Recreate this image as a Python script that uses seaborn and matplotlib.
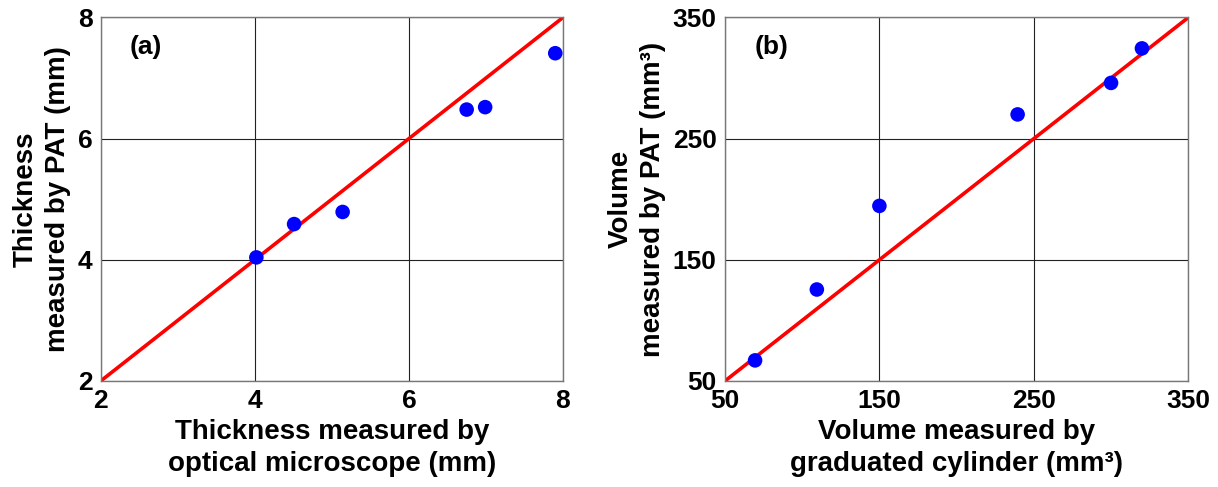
import matplotlib
matplotlib.use("Agg")
import matplotlib.pyplot as plt
import seaborn as sns
import pandas as pd

# --- Data ---
thick_optical = [4.02, 4.51, 5.14, 6.75, 6.99, 7.90]
thick_pat = [4.04, 4.59, 4.79, 6.48, 6.52, 7.41]
thick_line = [2, 8]

vol_cylinder = [69.5, 109.5, 150.0, 239.5, 300.0, 320.0]
vol_pat = [67.0, 125.5, 194.5, 270.0, 296.0, 324.5]
vol_line = [50, 350]

thick_ticks = [2, 4, 6, 8]
vol_ticks = [50, 150, 250, 350]

sns.set_style("white")
plt.rcParams["font.family"] = ["Liberation Sans", "DejaVu Sans"]
plt.rcParams["font.weight"] = "bold"
plt.rcParams["text.color"] = "black"
plt.rcParams["axes.labelcolor"] = "black"
plt.rcParams["xtick.color"] = "black"
plt.rcParams["ytick.color"] = "black"

fig = plt.figure(figsize=(12.18, 4.87), dpi=100)
ax_a = fig.add_axes([0.0827, 0.2177, 0.3795, 0.7464])
ax_b = fig.add_axes([0.5952, 0.2177, 0.3804, 0.7464])


def draw_panel(ax, xs, ys, line, ticks, letter, xlabel, ylabel):
    df = pd.DataFrame({"x": xs, "y": ys})
    ln = pd.DataFrame({"x": line, "y": line})
    ax.set_axisbelow(True)
    ax.grid(True, color="#222222", linewidth=0.8)
    sns.lineplot(data=ln, x="x", y="y", color="#ff0000", linewidth=2.6,
                 ax=ax, zorder=2)
    sns.scatterplot(data=df, x="x", y="y", color="#0000ff", s=110,
                    edgecolor="none", ax=ax, zorder=3)
    ax.set_xlim(line[0], line[1])
    ax.set_ylim(line[0], line[1])
    ax.set_xticks(ticks)
    ax.set_yticks(ticks)
    ax.tick_params(length=0, pad=6, labelsize=19, labelcolor="black")
    for lab in ax.get_xticklabels() + ax.get_yticklabels():
        lab.set_fontweight("bold")
    for sp in ax.spines.values():
        sp.set_color("#777777")
        sp.set_linewidth(1.0)
    ax.set_xlabel(xlabel, fontsize=20, fontweight="bold", labelpad=4,
                  linespacing=1.3, color="black")
    ax.set_ylabel(ylabel, fontsize=20, fontweight="bold", labelpad=5,
                  linespacing=1.3, color="black")
    ax.text(0.063, 0.92, letter, transform=ax.transAxes, fontsize=19,
            fontweight="bold", va="center", ha="left", color="black")


draw_panel(ax_a, thick_optical, thick_pat, thick_line, thick_ticks, "(a)",
           "Thickness measured by\noptical microscope (mm)",
           "Thickness\nmeasured by PAT (mm)")
draw_panel(ax_b, vol_cylinder, vol_pat, vol_line, vol_ticks, "(b)",
           "Volume measured by\ngraduated cylinder (mm\u00b3)",
           "Volume\nmeasured by PAT (mm\u00b3)")

fig.savefig("out.png", dpi=100)
